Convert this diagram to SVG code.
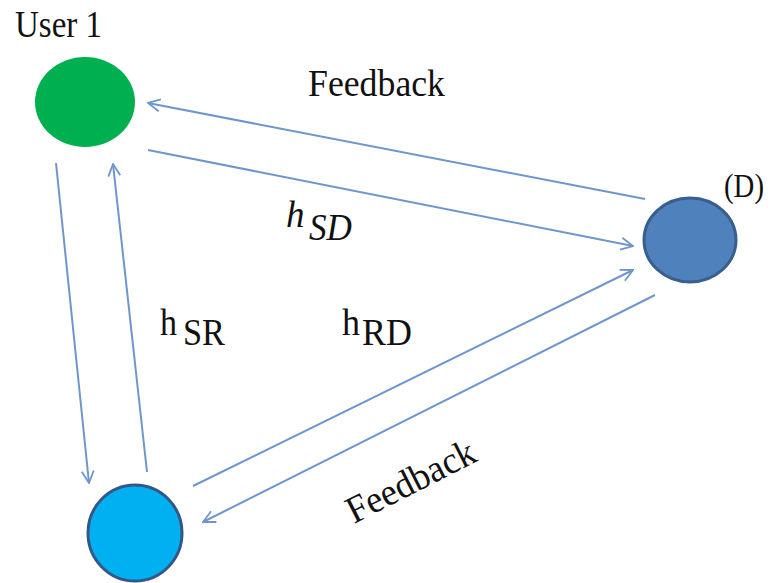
<svg xmlns="http://www.w3.org/2000/svg" width="772" height="583" viewBox="0 0 772 583">
<defs>
<marker id="ah" viewBox="0 0 14 14" refX="13" refY="7" markerWidth="14" markerHeight="14" markerUnits="userSpaceOnUse" orient="auto">
<path d="M1,1 L13,7 L1,13" fill="none" stroke="#6e96cd" stroke-width="1.8"/>
</marker>
</defs>
<style>
.t{font-family:"Liberation Serif","Times New Roman",serif;fill:#111}
.e{fill:none;stroke:#6e96cd;stroke-width:2;marker-end:url(#ah)}
</style>
<rect width="772" height="583" fill="#fff"/>
<g id="connectors">
<line class="e" x1="645" y1="199" x2="148" y2="103"/>
<line class="e" x1="148" y1="150" x2="633" y2="246"/>
<line class="e" x1="193" y1="486" x2="633" y2="270"/>
<line class="e" x1="655" y1="295" x2="203" y2="522"/>
<line class="e" x1="56" y1="163" x2="89" y2="483"/>
<line class="e" x1="147" y1="472" x2="113" y2="164"/>
</g>
<g id="user1">
<ellipse cx="85" cy="102" rx="50" ry="45" fill="#00b050"/>
<text class="t" x="15" y="37" font-size="38" textLength="87" lengthAdjust="spacingAndGlyphs">User 1</text>
</g>
<g id="destination">
<ellipse cx="690" cy="240" rx="46" ry="42" fill="#4f81bd" stroke="#3a5f8f" stroke-width="3"/>
<text class="t" x="724" y="197" font-size="34" textLength="40" lengthAdjust="spacingAndGlyphs">(D)</text>
</g>
<g id="relay">
<ellipse cx="135" cy="533" rx="47" ry="48" fill="#00b0f0" stroke="#34578a" stroke-width="3"/>
</g>
<g id="labels">
<text class="t" x="308" y="96" font-size="38" textLength="137" lengthAdjust="spacingAndGlyphs">Feedback</text>
<text class="t" font-size="38" textLength="140" lengthAdjust="spacingAndGlyphs" transform="translate(354,524) rotate(-27)">Feedback</text>
<text class="t" x="286" y="227" font-size="37" font-style="italic">h</text>
<text class="t" x="309" y="240" font-size="37" font-style="italic" textLength="43" lengthAdjust="spacingAndGlyphs">SD</text>
<text class="t" x="160" y="335" font-size="37" textLength="17" lengthAdjust="spacingAndGlyphs">h</text>
<text class="t" x="183" y="345" font-size="37" textLength="42" lengthAdjust="spacingAndGlyphs">SR</text>
<text class="t" x="342" y="335" font-size="37" textLength="18" lengthAdjust="spacingAndGlyphs">h</text>
<text class="t" x="362" y="345" font-size="37" textLength="50" lengthAdjust="spacingAndGlyphs">RD</text>
</g>
</svg>
